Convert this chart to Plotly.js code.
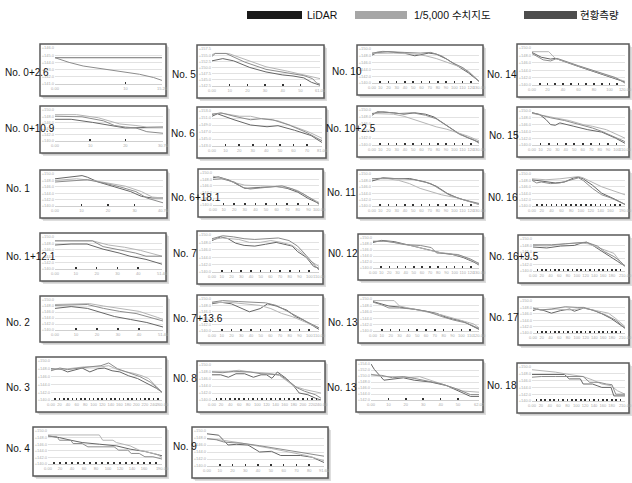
<!DOCTYPE html>
<html><head><meta charset="utf-8">
<script src="https://cdn.plot.ly/plotly-3.0.1.min.js"></script>
<style>html,body{margin:0;padding:0;background:#fff}#chart{width:632px;height:483px}</style>
</head><body><div id="chart"></div>
<script>
// ---------------- DATA ----------------
const seriesNames = ['LiDAR', '1/5,000 수치지도', '현황측량'];
const labels = ['No. 0+2.6','No. 5','No. 10','No. 14','No. 0+10.9','No. 6','No. 10+2.5','No. 15',
  'No. 1','No. 6+18.1','No. 11','N0. 16','No. 1+12.1','No. 7','N0. 12','No. 16+9.5',
  'No. 2','No. 7+13.6','No. 13','No. 17','No. 3','N0. 8','No. 13','No. 18','No. 4','No. 9'];
const xMax = [15.2,61.05,130,120,30.7,81,130,110,40.7,100,130,190,51.4,110,130,210,51.4,110,120,210,260,240,62.02,210,190,91.6];
const yMin = [141,142.5,140,140,140,143,140,140,140,140,140,140,140,140,140,140,140,140,140,140,140,140,142,140,140,140];
const ySpan = [5,15,10,10,10,10,10,10,10,10,10,10,10,10,10,10,10,10,10,10,10,10,12,10,10,10];
const yStep = [1,2.5,2,2,2,2,2,2,2,2,2,2,2,2,2,2,2,2,2,2,2,2,2,2,2,2];

// No. 0+2.6
const p01_lidar_x = [0,15.2];
const p01_lidar_y = [144.68,144.68];
const p01_map_x = [0,15.2];
const p01_map_y = [144.62,144.62];
const p01_survey_x = [0,2,4,6,8,10,12,14,15.2];
const p01_survey_y = [144.65,144.0,143.5,143.2,143.0,142.7,142.35,141.9,141.5];
// No. 5
const p02_lidar_x = [0,6.1,12.2,21.4,30.5,39.7,45.8,51.9,56.2,61.05];
const p02_lidar_y = [152.7,153.6,152.7,150.0,148.2,147.0,146.55,145.8,144.0,142.8];
const p02_map_x = [0,1.8,9.2,18.3,30.5,42.7,54.9,61.05];
const p02_map_y = [155.25,155.7,155.7,153.3,150.3,148.5,146.7,145.5];
const p02_survey_x = [0,1.8,7.9,18.3,30.5,42.7,51.9,56.8,59.2,61.05];
const p02_survey_y = [154.5,155.7,155.7,152.25,149.25,147.75,146.7,145.5,143.7,143.25];
// No. 10
const p03_lidar_x = [0,6.5,19.5,39,52,61,69,78,91,104,117,130];
const p03_lidar_y = [148.2,149,149.2,148.8,148,148.5,148.8,148.5,147,145,143,140.5];
const p03_map_x = [0,26,52,65,78,91,104,117,130];
const p03_map_y = [148.7,148.8,148.5,148,147.2,146.2,145,143.5,140.5];
const p03_survey_x = [0,13,39,58.5,71.5,84.5,97.5,110.5,121,130];
const p03_survey_y = [148.8,149.3,149,148.8,149,148,146,144.5,142.5,140.5];
// No. 14
const p04_lidar_x = [0,12,24,30,60,90,120];
const p04_lidar_y = [148.8,147.5,147,147.2,145,143,140.8];
const p04_map_x = [0,21.6,30,60,90,120];
const p04_map_y = [149,149,147.2,145.2,143.2,141];
const p04_survey_x = [0,14.4,24,32.4,60,90,108,120];
const p04_survey_y = [148.5,146.8,146.5,147.2,145.2,143.2,142,140.5];
// No. 0+10.9
const p05_lidar_x = [0,4.6,10.7,15.4,20,30.7];
const p05_lidar_y = [147,147,146,145,144.2,144.5];
const p05_map_x = [0,6.1,12.3,18.4,23,26.1,30.7];
const p05_map_y = [148.5,148.5,147.5,145.5,145,144.5,144.5];
const p05_survey_x = [0,7.7,13.8,16.9,20,23,26.1,30.7];
const p05_survey_y = [148,147.8,146.5,145,144.5,144.2,143,142.5];
// No. 6
const p06_lidar_x = [0,4,16.2,28.4,40.5,48.6,60.8,72.9,81];
const p06_lidar_y = [151.5,152.2,150.5,149,148.5,148.8,147.5,146,144];
const p06_map_x = [0,8.1,20.3,28.4,36.5,48.6,60.8,71.3,81];
const p06_map_y = [152.2,152.3,151.5,151.5,150.8,150.2,148.5,147,145.2];
const p06_survey_x = [0,6.5,16.2,28.4,36.5,44.6,56.7,68.9,81];
const p06_survey_y = [152,152.5,151.5,150.5,150.8,150.5,149,147,144.5];
// No. 10+2.5
const p07_lidar_x = [0,6.5,26,39,52,65,75.4,91,104,117,130];
const p07_lidar_y = [148.5,149.5,149.2,148.8,149.2,148.8,148,145.5,143.5,142,140.8];
const p07_map_x = [0,26,39,52,65,78,91,104,117,130];
const p07_map_y = [149,148.8,148.2,147.2,146,145.2,144.5,143.5,142.5,141.2];
const p07_survey_x = [0,13,32.5,49.4,65,78,91,106.6,123.5,130];
const p07_survey_y = [149,149.5,149,149.2,148.5,147.5,145.5,143,141.5,140.5];
// No. 15
const p08_lidar_x = [0,8.8,16.5,22,27.5,33,49.5,66,82.5,99,110];
const p08_lidar_y = [149.5,149,147.5,146,145.8,146.5,145.5,144.5,143.8,142,140.5];
const p08_map_x = [0,11,27.5,44,60.5,71.5,88,101.2,110];
const p08_map_y = [149.3,148.8,148,147.2,146,145.5,144.5,143,142];
const p08_survey_x = [0,11,22,38.5,55,71.5,82.5,96.8,110];
const p08_survey_y = [149.5,148.8,148,147.2,146.2,145,144,142.5,141];
// No. 1
const p09_lidar_x = [0,6.1,10.2,12.2,16.3,22.4,28.5,32.6,36.6,40.7];
const p09_lidar_y = [148.5,149.2,149.5,149,147.5,146,144.5,143,142.5,142.5];
const p09_map_x = [0,8.1,14.2,20.4,26.5,32.6,36.6,40.7];
const p09_map_y = [148,148.5,148,147.2,146.2,144.5,142.8,142.5];
const p09_survey_x = [0,8.1,12.2,18.3,24.4,30.5,34.6,40.7];
const p09_survey_y = [147.5,148,148.2,147.2,146,144.5,142.5,141];
// No. 6+18.1
const p10_lidar_x = [0,5,15,25,30,45,60,70,80,90,100];
const p10_lidar_y = [148.5,148.8,147.8,146,145.2,145.5,145.8,145.2,144,142,140.5];
const p10_map_x = [0,10,20,30,45,60,70,80,90,100];
const p10_map_y = [149,148.2,147,146.2,146,145.8,145.5,144.5,142.5,140.8];
const p10_survey_x = [0,8,20,28,35,50,65,75,85,95,100];
const p10_survey_y = [148,148.2,147.2,145.5,145,145.5,146,145,143.5,141.5,140.2];
// No. 11
const p11_lidar_x = [0,13,32.5,45.5,65,78,91,104,117,130];
const p11_lidar_y = [147.8,148.8,148.5,148.6,147.5,146.2,144,142.5,141.5,140.5];
const p11_map_x = [0,19.5,32.5,45.5,58.5,71.5,84.5,104,117,130];
const p11_map_y = [148.5,148.5,148,147,145.5,144.5,143.5,142.5,141.5,140.5];
const p11_survey_x = [0,13,39,52,71.5,84.5,93.6,110.5,130];
const p11_survey_y = [148.5,148.7,148.5,148.2,147,145,143.5,142,140.8];
// N0. 16
const p12_lidar_x = [0,19,28.5,47.5,66.5,85.5,95,104.5,123.5,142.5,171,190];
const p12_lidar_y = [148.2,147.8,147.8,147.2,147.5,148.8,149,148.5,146.5,144,142,140.5];
const p12_map_x = [0,28.5,57,85.5,95,104.5,123.5,142.5,161.5,190];
const p12_map_y = [148.5,148.2,148.5,149,149.2,148.8,147.5,146,145,143.5];
const p12_survey_x = [0,9.5,19,38,57,85.5,95,104.5,123.5,142.5,161.5,190];
const p12_survey_y = [148,147.2,147.5,147,147.2,148.5,148.8,148,145.5,143.5,142.5,140.5];
// No. 1+12.1
const p13_lidar_x = [0,7.7,15.4,23.1,30.8,36,43.7,51.4];
const p13_lidar_y = [147.5,147.8,147.8,146.2,145,144,143,141.5];
const p13_map_x = [0,18,25.7,33.4,41.1,51.4];
const p13_map_y = [148.8,148.8,147.5,146.8,145.8,144];
const p13_survey_x = [0,18,23.1,30.8,38.6,43.7,51.4];
const p13_survey_y = [148.8,148.8,147,146,145,144,144];
// No. 7
const p14_lidar_x = [0,8.8,16.5,24.2,33,44,55,66,82.5,88,96.8,104.5,110];
const p14_lidar_y = [148.5,149.5,149,147.8,147.2,147,147.5,148,147,145.5,144,141.5,141];
const p14_map_x = [0,11,27.5,38.5,49.5,60.5,71.5,82.5,93.5,101.2,110];
const p14_map_y = [148.8,149.2,148.8,148,148,148.5,148,147.2,145,143,141.5];
const p14_survey_x = [0,11,22,33,44,60.5,68.2,79.2,88,96.8,104.5,110];
const p14_survey_y = [149,149.8,149.5,149,148.8,149,149.2,148.5,147,144.5,142,140.5];
// N0. 12
const p15_lidar_x = [0,10.4,26,45.5,58.5,71.5,84.5,97.5,110.5,123.5,130];
const p15_lidar_y = [148.5,149.2,148.8,147.5,146.8,146,145,144.5,143.5,142,141];
const p15_map_x = [0,19.5,36.4,52,67.6,80.6,93.6,110.5,123.5,130];
const p15_map_y = [149,148.8,148,147.2,146,145.2,144.8,143.8,142.2,141.2];
const p15_survey_x = [0,13,26,39,58.5,71.5,78,93.6,104,119.6,130];
const p15_survey_y = [148.8,149,148.5,147.8,147.5,146.8,145,144.8,144.5,143,141.5];
// No. 16+9.5
const p16_lidar_x = [0,31.5,63,94.5,105,121.8,136.5,157.5,178.5,193.2,210];
const p16_lidar_y = [147.5,147.2,147.8,148,148.5,149,148,146.2,144.5,143,141.5];
const p16_map_x = [0,31.5,73.5,105,126,147,168,184.8,201.6,210];
const p16_map_y = [148,147.8,148.5,148.8,148.5,147.5,146.5,145.5,142.5,141.5];
const p16_survey_x = [0,42,73.5,105,121.8,147,163.8,184.8,199.5,210];
const p16_survey_y = [148.2,148.2,148.5,148.8,149,147.8,146,144.5,143,141.5];
// No. 2
const p17_lidar_x = [0,7.7,15.4,21.6,28.3,36,43.7,51.4];
const p17_lidar_y = [147.2,147.8,147.2,146,144.5,143.5,142.5,141];
const p17_map_x = [0,10.3,16.4,23.1,30.8,40.1,48.8,51.4];
const p17_map_y = [148.5,148.8,148.8,148,147.2,146.2,144.2,143.5];
const p17_survey_x = [0,10.3,15.4,23.1,30.8,38.6,46.3,51.4];
const p17_survey_y = [148.2,148.5,148.5,147.2,146.2,145.5,144,143];
// No. 7+13.6
const p18_lidar_x = [0,8.8,19.8,30.8,38.5,49.5,57.2,66,77,85.8,93.5,104.5,110];
const p18_lidar_y = [148.5,149,148.5,147,146,147,148.5,147.8,146.5,144.5,143.5,141.5,140.5];
const p18_map_x = [0,16.5,33,49.5,60.5,71.5,82.5,90.2,99,110];
const p18_map_y = [148.8,149,148.5,148,147,145.5,144.5,143.5,142.5,141];
const p18_survey_x = [0,11,27.5,44,55,66,79.2,88,96.8,110];
const p18_survey_y = [149,149.5,149.2,149,148.8,148,146,144.5,143,141];
// No. 13
const p19_lidar_x = [0,9.6,18,30,42,60,72,84,102,114,120];
const p19_lidar_y = [149.2,148.5,147.8,147.5,147,146.2,145.5,144.2,143,141.5,140.5];
const p19_map_x = [0,14.4,24,30,42,60,78,96,114,120];
const p19_map_y = [149.5,149.5,149.5,147.8,147,146,145,143.5,142.2,141];
const p19_survey_x = [0,9.6,18,30,48,62.4,78,90,105.6,114,120];
const p19_survey_y = [149,148.2,147.2,147.2,146.8,146,144.5,143.5,142.5,141.5,140.8];
// No. 17
const p20_lidar_x = [0,10.5,25.2,42,63,84,94.5,115.5,136.5,157.5,178.5,195.3,210];
const p20_lidar_y = [147,147.5,147,146.2,147,147.5,146.8,147.8,147.2,146,144.5,143,141.5];
const p20_map_x = [0,21,52.5,84,115.5,136.5,157.5,172.2,189,210];
const p20_map_y = [147.5,147.2,147.5,147.2,147.8,147.2,146.5,146.2,144.5,142];
const p20_survey_x = [0,16.8,42,73.5,100.8,115.5,142.8,168,189,210];
const p20_survey_y = [147.8,147.2,147.5,148.2,148,148,146.8,145.5,144,141.5];
// No. 3
const p21_lidar_x = [0,26,39,57.2,72.8,91,109.2,124.8,143,161.2,182,202.8,221,247,260];
const p21_lidar_y = [148,147.8,147.2,147.8,148.2,147.2,148,148.2,147.5,147.2,146.2,145.5,144.5,143,142];
const p21_map_x = [0,39,78,117,135.2,156,176.8,195,213.2,228.8,247,260];
const p21_map_y = [147.8,148,148.5,148.5,148.8,147.8,147.2,146.8,146.2,145.5,143.5,142];
const p21_survey_x = [0,20.8,39,65,91,117,135.2,156,182,208,234,260];
const p21_survey_y = [147.5,148.2,147.8,148.2,148.5,148.8,149.5,148,147,146,144.5,142];
// N0. 8
const p22_lidar_x = [0,19.2,36,52.8,72,91.2,108,120,132,144,163.2,180,192,211.2,228,240];
const p22_lidar_y = [147.2,147.2,146.5,147.5,147.5,146.5,147.2,147.2,146.2,148,146.2,144,142,141.5,140.5,140];
const p22_map_x = [0,36,60,84,108,132,148.8,163.2,180,204,240];
const p22_map_y = [148.2,148.2,148.5,148,147.8,147.5,147,145.5,144,143,142];
const p22_survey_x = [0,24,48,84,108,132,148.8,168,187.2,204,228,240];
const p22_survey_y = [148,147.8,148.2,148,147.5,147.2,147.2,145.5,143.5,142.5,141.5,140.5];
// No. 13 (second)
const p23_lidar_x = [0,1.9,7.4,12.4,18.6,24.8,34.1,43.4,52.7,57.1,62.02];
const p23_lidar_y = [154,152.2,148.6,149,149.4,148.6,148,146.8,144.4,143.2,143.2];
const p23_map_x = [0,6.2,15.5,21.7,27.9,37.2,46.5,52.7,62.02];
const p23_map_y = [150.6,149.8,149.8,149.4,149.8,148,146.2,145,144.6];
const p23_survey_x = [0,6.2,12.4,18.6,24.8,34.1,40.3,49.6,57.1,62.02];
const p23_survey_y = [150.4,150.2,149.4,149.8,149.2,148,147.4,145.6,143.8,143.8];
// No. 18
const p24_lidar_x = [0,73.5,84,109.2,115.5,136.5,147,157.5,178.5,184.8,210];
const p24_lidar_y = [147.8,147.8,146.5,146.5,145,145,144.5,144,144,141.5,141.5];
const p24_map_x = [0,21,52.5,84,115.5,136.5,157.5,178.5,193.2,210];
const p24_map_y = [149.2,149,148.5,147.8,147.2,146.2,145,144.5,143,142];
const p24_survey_x = [0,21,52.5,94.5,115.5,130.2,151.2,168,180.6,189,210];
const p24_survey_y = [147,147.2,147.2,147.2,147.2,145.5,145.5,145,144.8,142,142];
// No. 4
const p25_lidar_x = [0,19,38,57,85.5,114,136.8,161.5,190];
const p25_lidar_y = [148.5,148,147.2,146.5,146,145.5,144.5,143.8,142.5];
const p25_map_x = [0,85.5,91.2,108.3,114,136.8,152,171,180.5,190];
const p25_map_y = [148.8,148.8,147.2,147.2,146.5,145.5,144.2,143.5,143,142];
const p25_survey_x = [0,15.2,19,38,41.8,57,66.5,110.2,117.8,133,138.7,152,161.5,174.8,190];
const p25_survey_y = [148.5,148.2,147.2,147.2,146.2,146.2,145.2,145.2,144.2,144.2,143.2,143.2,142.2,142.2,141.5];
// No. 9
const p26_lidar_x = [0,9.2,16.5,22.9,32.1,41.2,50.4,57.7,73.3,82.4,91.6];
const p26_lidar_y = [149.2,148.8,146,146.2,146,144,144.2,143,143,142.5,141];
const p26_map_x = [0,9.2,22.9,36.6,50.4,64.1,77.9,91.6];
const p26_map_y = [147.8,147.5,146.8,146,145,144,143,141.5];
const p26_survey_x = [0,7.3,13.7,27.5,41.2,55,68.7,77.9,91.6];
const p26_survey_y = [147.8,147.5,146.8,146.5,145.8,145,144,143.5,142.8];

// --------------- LAYOUT (pixel boxes, kept apart from the data) ---------------
const W = 632, H = 483;
const boxes = [
  [40,166,44,96],[197,324,45,98],[357,483,45,95],[517,629,44,97],
  [40,167,106,153],[197,326,107,158],[357,483,106,157],[517,629,107,157],
  [40,167,170,218],[198,323,169,217],[357,483,170,218],[517,629,170,218],
  [40,166,233,281],[197,323,231,284],[358,483,234,280],[518,629,235,283],
  [40,167,296,342],[197,323,295,343],[358,483,295,343],[518,629,297,345],
  [36,166,357,412],[197,325,361,412],[356,483,360,412],[517,629,363,413],
  [33,166,427,476],[192,328,427,478]
];
const labelPos = [
  [4,72],[171,74],[331,71],[486,74],
  [4,128],[170,133],[325,128],[488,135],
  [5,189],[170,197],[326,192],[487,197],
  [5,256],[172,253],[327,254],[488,256],
  [5,322],[172,318],[327,322],[488,317],
  [5,387],[172,378],[326,387],[486,385],
  [5,448],[172,446]
];
const seriesColor = ['#666666', '#b5b5b5', '#8c8c8c'];
const legendColor = ['#1a1a1a', '#a6a6a6', '#4d4d4d'];

const panelData = [
  [p01_lidar_x,p01_lidar_y,p01_map_x,p01_map_y,p01_survey_x,p01_survey_y],
  [p02_lidar_x,p02_lidar_y,p02_map_x,p02_map_y,p02_survey_x,p02_survey_y],
  [p03_lidar_x,p03_lidar_y,p03_map_x,p03_map_y,p03_survey_x,p03_survey_y],
  [p04_lidar_x,p04_lidar_y,p04_map_x,p04_map_y,p04_survey_x,p04_survey_y],
  [p05_lidar_x,p05_lidar_y,p05_map_x,p05_map_y,p05_survey_x,p05_survey_y],
  [p06_lidar_x,p06_lidar_y,p06_map_x,p06_map_y,p06_survey_x,p06_survey_y],
  [p07_lidar_x,p07_lidar_y,p07_map_x,p07_map_y,p07_survey_x,p07_survey_y],
  [p08_lidar_x,p08_lidar_y,p08_map_x,p08_map_y,p08_survey_x,p08_survey_y],
  [p09_lidar_x,p09_lidar_y,p09_map_x,p09_map_y,p09_survey_x,p09_survey_y],
  [p10_lidar_x,p10_lidar_y,p10_map_x,p10_map_y,p10_survey_x,p10_survey_y],
  [p11_lidar_x,p11_lidar_y,p11_map_x,p11_map_y,p11_survey_x,p11_survey_y],
  [p12_lidar_x,p12_lidar_y,p12_map_x,p12_map_y,p12_survey_x,p12_survey_y],
  [p13_lidar_x,p13_lidar_y,p13_map_x,p13_map_y,p13_survey_x,p13_survey_y],
  [p14_lidar_x,p14_lidar_y,p14_map_x,p14_map_y,p14_survey_x,p14_survey_y],
  [p15_lidar_x,p15_lidar_y,p15_map_x,p15_map_y,p15_survey_x,p15_survey_y],
  [p16_lidar_x,p16_lidar_y,p16_map_x,p16_map_y,p16_survey_x,p16_survey_y],
  [p17_lidar_x,p17_lidar_y,p17_map_x,p17_map_y,p17_survey_x,p17_survey_y],
  [p18_lidar_x,p18_lidar_y,p18_map_x,p18_map_y,p18_survey_x,p18_survey_y],
  [p19_lidar_x,p19_lidar_y,p19_map_x,p19_map_y,p19_survey_x,p19_survey_y],
  [p20_lidar_x,p20_lidar_y,p20_map_x,p20_map_y,p20_survey_x,p20_survey_y],
  [p21_lidar_x,p21_lidar_y,p21_map_x,p21_map_y,p21_survey_x,p21_survey_y],
  [p22_lidar_x,p22_lidar_y,p22_map_x,p22_map_y,p22_survey_x,p22_survey_y],
  [p23_lidar_x,p23_lidar_y,p23_map_x,p23_map_y,p23_survey_x,p23_survey_y],
  [p24_lidar_x,p24_lidar_y,p24_map_x,p24_map_y,p24_survey_x,p24_survey_y],
  [p25_lidar_x,p25_lidar_y,p25_map_x,p25_map_y,p25_survey_x,p25_survey_y],
  [p26_lidar_x,p26_lidar_y,p26_map_x,p26_map_y,p26_survey_x,p26_survey_y]
];

const PX = v => v / W;
const PY = v => 1 - v / H;
const FONT = 'Liberation Sans, Arial, "Noto Sans CJK KR", sans-serif';

const traces = [];
const layout = {
  width: W, height: H,
  margin: {l:0, r:0, t:0, b:0},
  paper_bgcolor: '#ffffff',
  plot_bgcolor: 'rgba(0,0,0,0)',
  showlegend: false,
  font: {family: FONT, color: '#000'},
  shapes: [], annotations: []
};

panelData.forEach((d, i) => {
  const n = i + 1;
  const xa = n === 1 ? 'xaxis' : 'xaxis' + n;
  const ya = n === 1 ? 'yaxis' : 'yaxis' + n;
  const xr = n === 1 ? 'x' : 'x' + n;
  const yr = n === 1 ? 'y' : 'y' + n;
  for (let s = 0; s < 3; s++) {
    traces.push({
      type: 'scatter', mode: 'lines', name: seriesNames[s],
      x: d[2*s], y: d[2*s+1], xaxis: xr, yaxis: yr,
      line: {color: seriesColor[s], width: 1},
      hoverinfo: 'skip', showlegend: false
    });
  }
  const [bx0, bx1, by0, by1] = boxes[i];
  const plotW = (bx1 - 4) - (bx0 + 15);
  const tv = [];
  for (let v = 0; v < xMax[i] - 3; v += 10) tv.push(v);
  tv.push(xMax[i]);
  // label every k-th tick so the tiny labels do not pile up
  const k = Math.max(1, Math.ceil(8 / (plotW / (tv.length - 1))));
  const tt = tv.map((v, j) => {
    if (j === tv.length - 1) return v.toFixed(2);
    if (j % k !== 0 || (tv.length - 1 - j) < k) return '';
    return v === 0 ? '0.00' : String(v);
  });
  layout[xa] = {
    domain: [PX(bx0 + 15), PX(bx1 - 4)], anchor: yr,
    range: [0, xMax[i]], tickmode: 'array', tickvals: tv, ticktext: tt, tickangle: 0,
    tickfont: {size: 4, color: '#aaaaaa'}, ticks: 'inside', ticklen: 2, tickwidth: 1.6, tickcolor: '#333',
    showgrid: false, zeroline: false, showline: true, linecolor: '#cfcfcf', linewidth: 1, fixedrange: true
  };
  layout[ya] = {
    domain: [PY(by1 - 12), PY(by0 + 4)], anchor: xr,
    range: [yMin[i], yMin[i] + ySpan[i]], tickmode: 'linear', tick0: yMin[i], dtick: yStep[i],
    tickformat: '.1f', tickprefix: '+',
    tickfont: {size: 4, color: '#aaaaaa'}, ticks: '',
    showgrid: true, gridcolor: '#e2e2e2', gridwidth: 1, zeroline: false, showline: false, fixedrange: true
  };
  layout.shapes.push({type:'rect', xref:'paper', yref:'paper', layer:'below',
    x0: PX(bx0 + 3), x1: PX(bx1 + 3), y0: PY(by1 + 3), y1: PY(by0 + 3),
    fillcolor: '#dedede', line: {width: 0}});
  layout.shapes.push({type:'rect', xref:'paper', yref:'paper', layer:'below',
    x0: PX(bx0 + 1.5), x1: PX(bx1 + 1.5), y0: PY(by1 + 1.5), y1: PY(by0 + 1.5),
    fillcolor: '#b9b9b9', line: {width: 0}});
  layout.shapes.push({type:'rect', xref:'paper', yref:'paper', layer:'below',
    x0: PX(bx0), x1: PX(bx1), y0: PY(by1), y1: PY(by0),
    fillcolor: '#ffffff', line: {color: '#595959', width: 1.5}});
  layout.annotations.push({xref:'paper', yref:'paper', x: PX(labelPos[i][0]), y: PY(labelPos[i][1]),
    xanchor:'left', yanchor:'middle', showarrow:false, text: labels[i], borderpad: 0,
    font: {size: 10, color: '#111', family: FONT}});
});

const legendRects = [[247,302],[355,407],[524,577]];
const legendText = [306,413,579];
for (let s = 0; s < 3; s++) {
  layout.shapes.push({type:'rect', xref:'paper', yref:'paper',
    x0: PX(legendRects[s][0]), x1: PX(legendRects[s][1]), y0: PY(19), y1: PY(11),
    fillcolor: legendColor[s], line: {width: 0}});
  layout.annotations.push({xref:'paper', yref:'paper', x: PX(legendText[s]), y: PY(15),
    xanchor:'left', yanchor:'middle', showarrow:false, text: seriesNames[s], borderpad: 0,
    font: {size: 10.5, color: '#111', family: FONT}});
}

Plotly.newPlot('chart', traces, layout, {displayModeBar: false, staticPlot: true});
</script></body></html>
